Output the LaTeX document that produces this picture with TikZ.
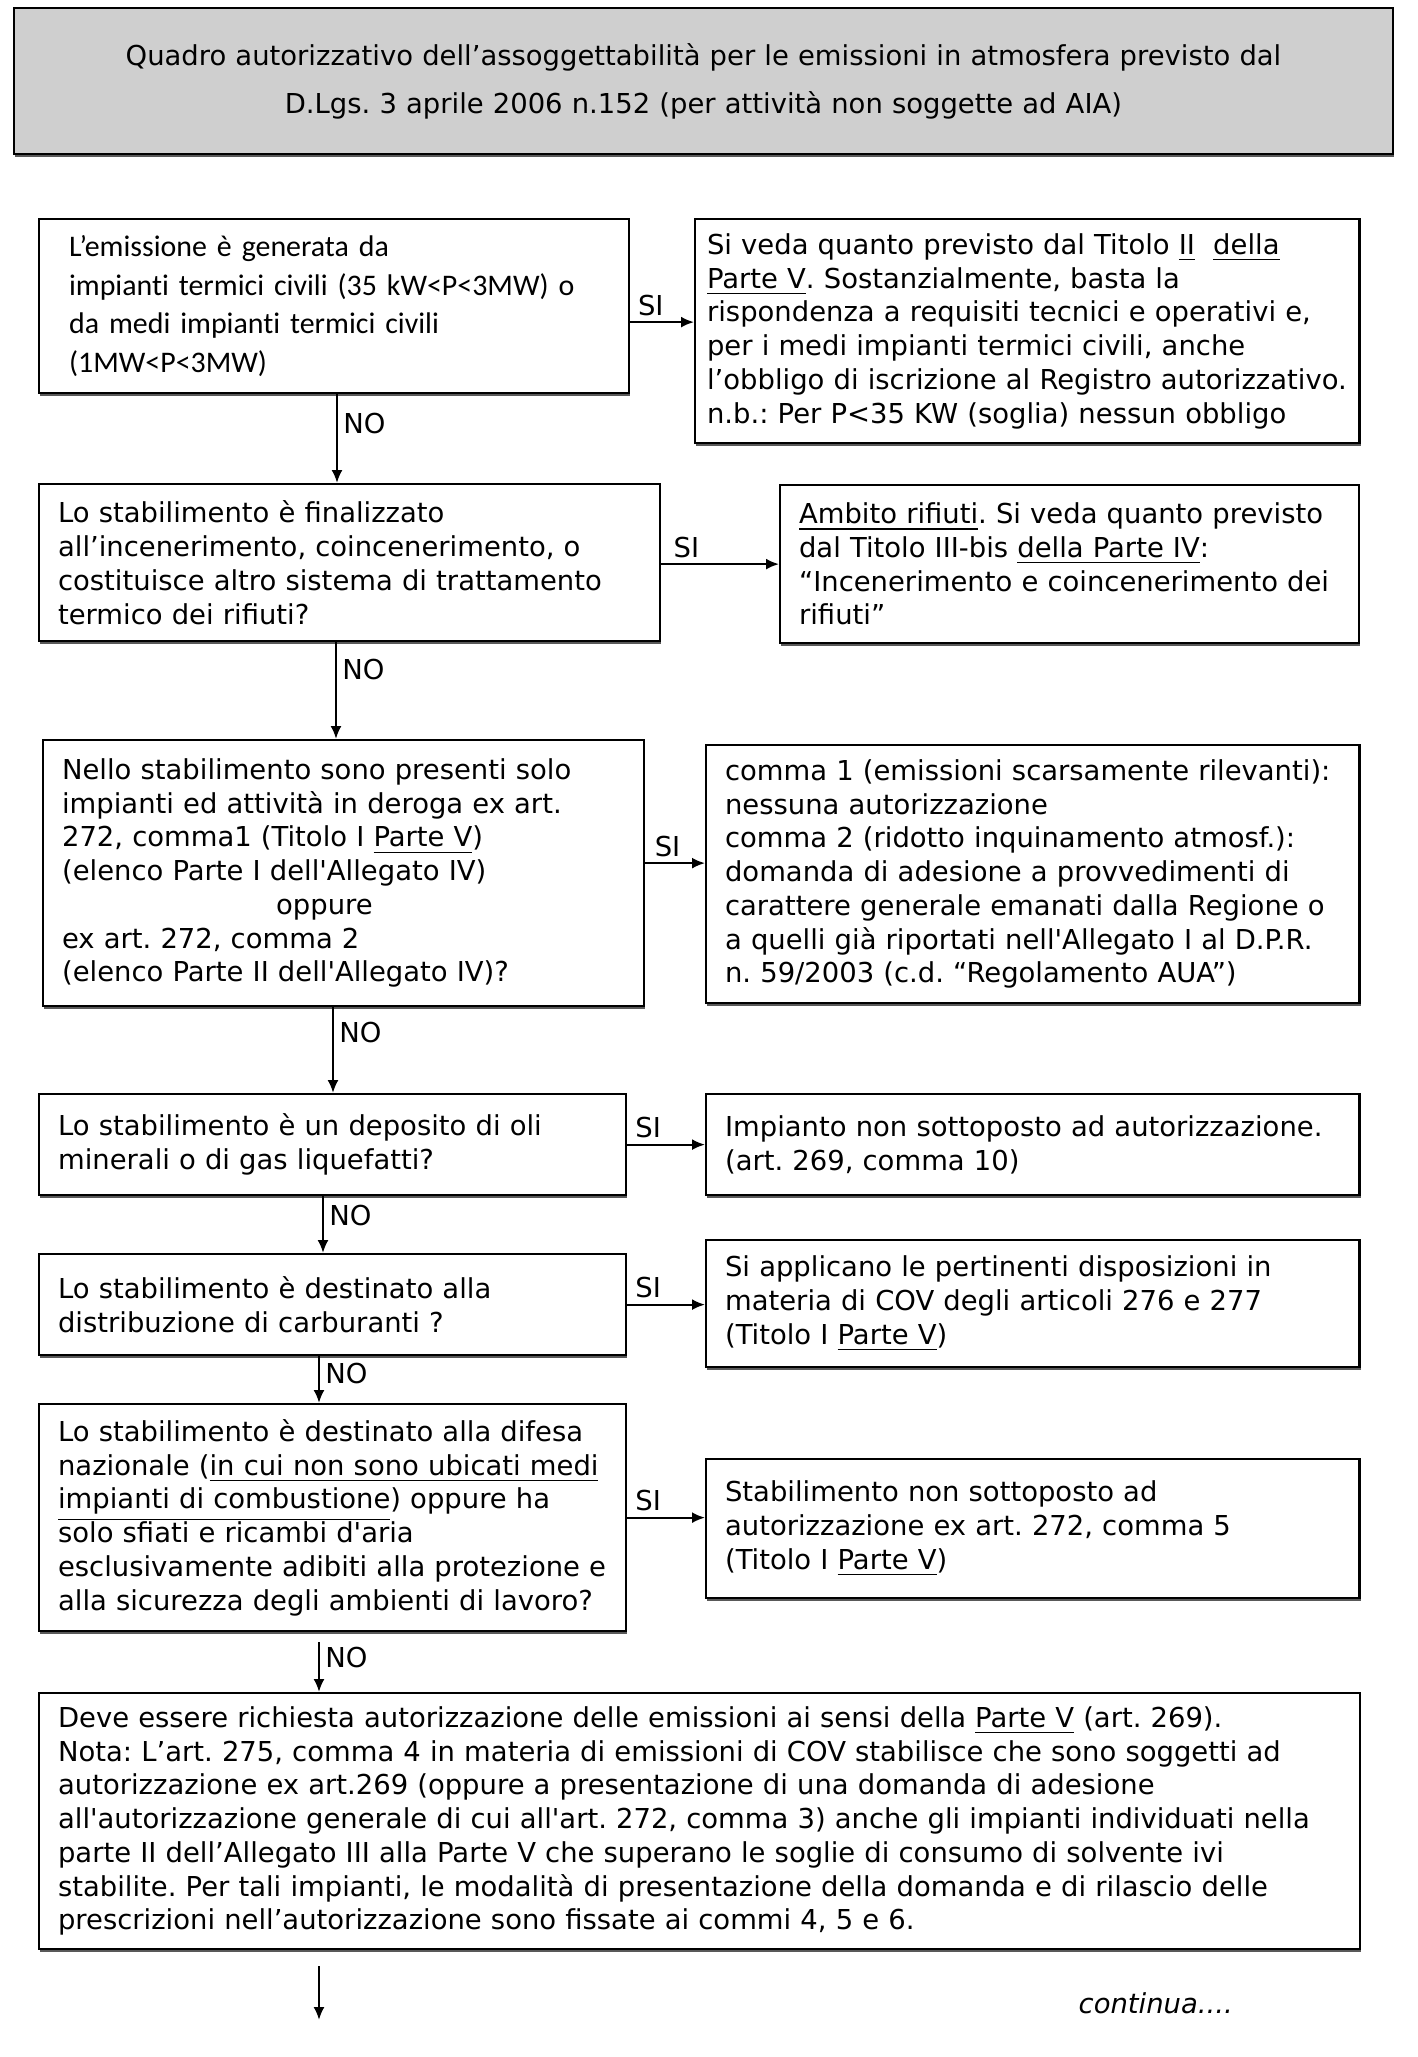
\documentclass[tikz,border=0pt]{standalone}
\usepackage{fontspec}
\setmainfont{DejaVu Sans}
\newfontfamily\calibri[Ligatures={NoCommon}]{Carlito}
\usetikzlibrary{arrows.meta, shadows, calc}
\definecolor{hdrGrey}{HTML}{CFCFCF}
\frenchspacing
\tikzset{
  qbox/.style={draw, line width=0.6pt, fill=white, align=left, anchor=north west,
    inner xsep=0.19cm, inner ysep=0pt,
    drop shadow={shadow xshift=0.3pt, shadow yshift=-0.9pt, opacity=1, fill=black!65}},
  arrow/.style={line width=0.6pt, -{Latex[length=1.3mm, width=1.1mm]}},
  silab/.style={anchor=south west, inner sep=1.5pt},
  nolab/.style={anchor=west, inner sep=1.5pt},
}

\begin{document}
\begin{tikzpicture}[x=0.01cm, y=-0.01cm, font=\fontsize{7.8}{9.6}\selectfont]
\useasboundingbox (0,0) rectangle (1417,2057);

% titolo
\node[qbox, fill=hdrGrey, align=center, text width=13.40cm, minimum height=1.46cm,
  font=\fontsize{7.8}{13.7}\selectfont] (hdr) at (13,7)
  {Quadro autorizzativo dell’assoggettabilità per le emissioni in atmosfera previsto dal\\
   D.Lgs. 3 aprile 2006 n.152 (per attività non soggette ad AIA)};

% domande (colonna sinistra) e risposte SI (colonna destra)
\node[qbox, inner xsep=0.3cm, text width=5.30cm, minimum height=1.74cm,
  font=\calibri\fontsize{8.5}{11}\selectfont] (emis) at (38,218)
  {L’emissione è generata da\\
   impianti termici civili (35 kW<P<3MW) o\\
   da medi impianti termici civili\\
   (1MW<P<3MW)};
\node[qbox, inner xsep=0.12cm, text width=6.40cm, minimum height=2.24cm] (tit2) at (694,218)
  {Si veda quanto previsto dal Titolo \underline{II}\ \ \underline{della}\\
   \underline{Parte V}. Sostanzialmente, basta la\\
   rispondenza a requisiti tecnici e operativi e,\\
   per i medi impianti termici civili, anche\\
   l’obbligo di iscrizione al Registro autorizzativo.\\
   n.b.: Per P<35 KW (soglia) nessun obbligo};

\node[qbox, text width=5.83cm, minimum height=1.57cm] (ince) at (38,483)
  {Lo stabilimento è finalizzato\\
   all’incenerimento, coincenerimento, o\\
   costituisce altro sistema di trattamento\\
   termico dei rifiuti?};
\node[qbox, text width=5.41cm, minimum height=1.58cm] (rifi) at (779,484)
  {\underline{Ambito rifiuti}. Si veda quanto previsto\\
   dal Titolo III-bis \underline{della Parte IV}:\\
   “Incenerimento e coincenerimento dei\\
   rifiuti”};

\node[qbox, text width=5.63cm, minimum height=2.66cm] (dero) at (42,739)
  {Nello stabilimento sono presenti solo\\
   impianti ed attività in deroga ex art.\\
   272, comma1 (Titolo I \underline{Parte V})\\
   (elenco Parte I dell\textquotesingle Allegato IV)\\
   \hspace*{2.14cm}oppure\\
   ex art. 272, comma 2\\
   (elenco Parte II dell\textquotesingle Allegato IV)?};
\node[qbox, text width=6.15cm, minimum height=2.58cm] (comm) at (705,744)
  {comma 1 (emissioni scarsamente rilevanti):\\
   nessuna autorizzazione\\
   comma 2 (ridotto inquinamento atmosf.):\\
   domanda di adesione a provvedimenti di\\
   carattere generale emanati dalla Regione o\\
   a quelli già riportati nell\textquotesingle Allegato I al D.P.R.\\
   n. 59/2003 (c.d. “Regolamento AUA”)};

\node[qbox, text width=5.49cm, minimum height=1.01cm] (oli) at (38,1093)
  {Lo stabilimento è un deposito di oli\\
   minerali o di gas liquefatti?};
\node[qbox, text width=6.15cm, minimum height=1.01cm] (nonaut) at (705,1093)
  {Impianto non sottoposto ad autorizzazione.\\
   (art. 269, comma 10)};

\node[qbox, text width=5.49cm, minimum height=1.01cm] (carb) at (38,1253)
  {Lo stabilimento è destinato alla\\
   distribuzione di carburanti ?};
\node[qbox, text width=6.15cm, minimum height=1.27cm] (cov) at (705,1239)
  {Si applicano le pertinenti disposizioni in\\
   materia di COV degli articoli 276 e 277\\
   (Titolo I \underline{Parte V})};

\node[qbox, text width=5.49cm, minimum height=2.27cm] (dife) at (38,1403)
  {Lo stabilimento è destinato alla difesa\\
   nazionale (\underline{in cui non sono ubicati medi}\\
   \underline{impianti di combustione}) oppure ha\\
   solo sfiati e ricambi d\textquotesingle aria\\
   esclusivamente adibiti alla protezione e\\
   alla sicurezza degli ambienti di lavoro?};
\node[qbox, text width=6.15cm, minimum height=1.39cm] (nonsott) at (705,1458)
  {Stabilimento non sottoposto ad\\
   autorizzazione ex art. 272, comma 5\\
   (Titolo I \underline{Parte V})};

\node[qbox, text width=12.82cm, minimum height=2.56cm] (auto) at (38,1692)
  {Deve essere richiesta autorizzazione delle emissioni ai sensi della \underline{Parte V} (art. 269).\\
   Nota: L’art. 275, comma 4 in materia di emissioni di COV stabilisce che sono soggetti ad\\
   autorizzazione ex art.269 (oppure a presentazione di una domanda di adesione\\
   all\textquotesingle autorizzazione generale di cui all\textquotesingle art. 272, comma 3) anche gli impianti individuati nella\\
   parte II dell’Allegato III alla Parte V che superano le soglie di consumo di solvente ivi\\
   stabilite. Per tali impianti, le modalità di presentazione della domanda e di rilascio delle\\
   prescrizioni nell’autorizzazione sono fissate ai commi 4, 5 e 6.};

% rami SI
\draw[arrow] ($(emis.east)+(0,16)$) -- node[silab, pos=0.02] {SI} ($(tit2.west |- emis.east)+(0,16)$);
\draw[arrow] (ince.east |- rifi.west) -- node[silab, pos=0.05] {SI} (rifi.west);
\draw[arrow] ($(dero.east)+(0,-10)$) -- node[silab, pos=0.05] {SI} ($(comm.west |- dero.east)+(0,-10)$);
\draw[arrow] (oli.east) -- node[silab, pos=0.02] {SI} (nonaut.west);
\draw[arrow] (carb.east) -- node[silab, pos=0.02] {SI} (carb.east -| cov.west);
\draw[arrow] (dife.east) -- node[silab, pos=0.02] {SI} (dife.east -| nonsott.west);

% rami NO
\coordinate (xa) at (337,0);
\coordinate (xb) at (336,0);
\coordinate (xc) at (333,0);
\coordinate (xd) at (323,0);
\coordinate (xe) at (319,0);
\draw[arrow] (emis.south -| xa) -- node[nolab, pos=0.33] {NO} (ince.north -| xa);
\draw[arrow] (ince.south -| xb) -- node[nolab, pos=0.28] {NO} (dero.north -| xb);
\draw[arrow] (dero.south -| xc) -- node[nolab, pos=0.30] {NO} (oli.north -| xc);
\draw[arrow] (oli.south -| xd) -- node[nolab, pos=0.34] {NO} (carb.north -| xd);
\draw[arrow] (carb.south -| xe) -- node[nolab, pos=0.37] {NO} (dife.north -| xe);
\draw[arrow] ($(dife.south -| xe)+(0,10)$) -- node[nolab, pos=0.30] {NO} (auto.north -| xe);

\coordinate (cont) at (319,2020);
\draw[arrow] ($(auto.south -| cont)+(0,16)$) -- (cont);
\node[anchor=west, inner sep=0pt, font=\itshape\fontsize{7.8}{9.6}\selectfont] (segue) at (1078,2003) {continua....};
\end{tikzpicture}
\end{document}
